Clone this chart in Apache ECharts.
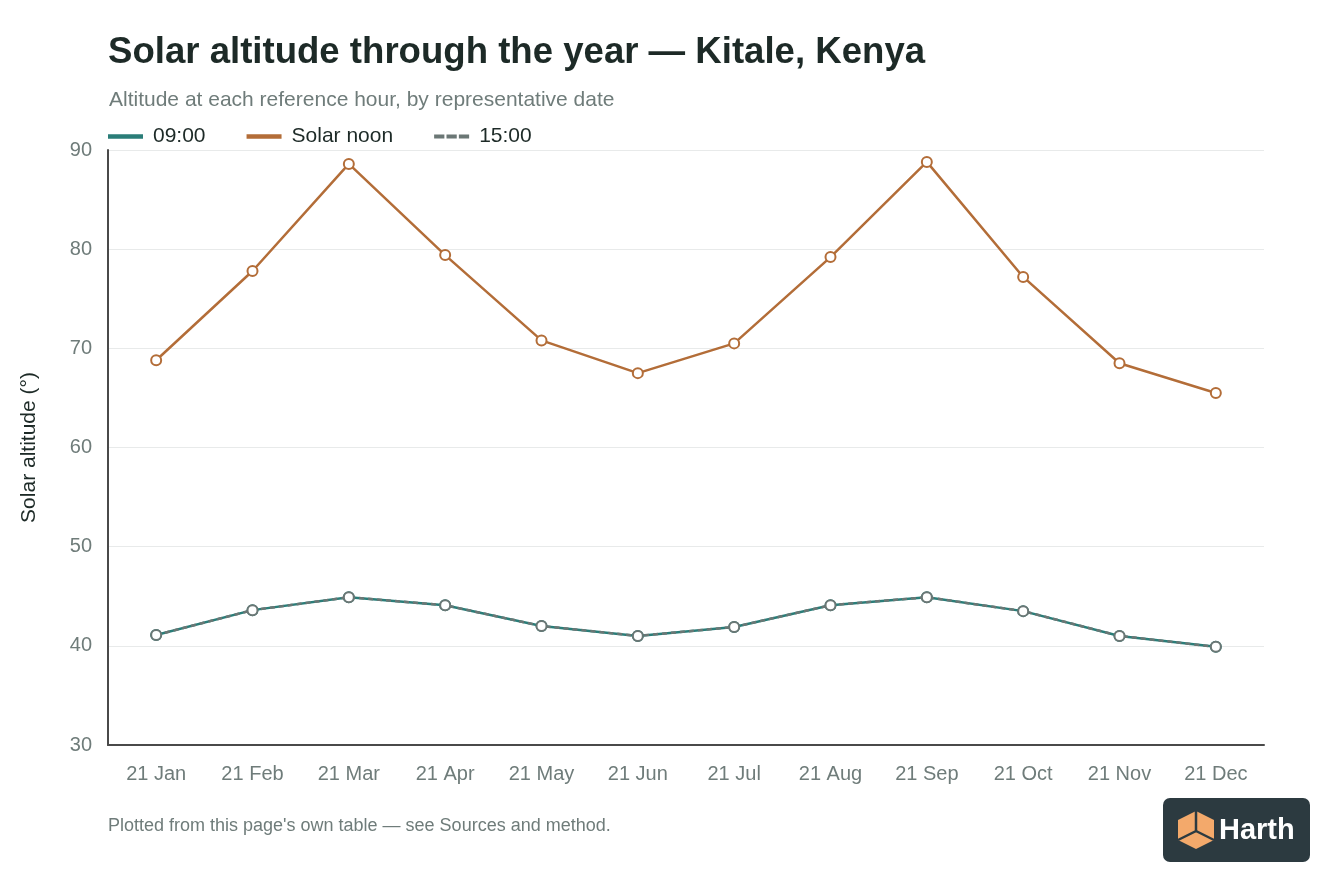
<!DOCTYPE html>
<html><head><meta charset="utf-8">
<script src="https://cdn.jsdelivr.net/npm/echarts@6/dist/echarts.min.js"></script>
<style>html,body{margin:0;padding:0;background:#fff}#c{width:1344px;height:896px}</style>
</head><body><div id="c"></div>
<script>
const categories = ['21 Jan','21 Feb','21 Mar','21 Apr','21 May','21 Jun','21 Jul','21 Aug','21 Sep','21 Oct','21 Nov','21 Dec'];
const alt0900 = [41.1,43.6,44.9,44.1,42.0,41.0,41.9,44.1,44.9,43.5,41.0,39.9];
const altNoon = [68.8,77.8,88.6,79.4,70.8,67.5,70.5,79.2,88.8,77.2,68.5,65.5];
const alt1500 = [41.1,43.6,44.9,44.1,42.0,41.0,41.9,44.1,44.9,43.5,41.0,39.9];
const yTicks = [30,40,50,60,70,80,90];

const FONT = '"Liberation Sans", Arial, Helvetica, sans-serif';
const chart = echarts.init(document.getElementById('c'));
const mk = (name, data, color, dashed, z) => ({
  name, type:'line', data, z,
  symbol:'circle', symbolSize:10, showSymbol:true,
  lineStyle:{color, width:2.5, type: dashed ? [5,4] : 'solid'},
  itemStyle:{color:'#fff', borderColor:color, borderWidth:2},
  emphasis:{disabled:true}
});
chart.setOption({
  animation:false,
  textStyle:{fontFamily:FONT},
  title:[
    {text:'Solar altitude through the year — Kitale, Kenya', left:103, top:29,
     textStyle:{fontSize:36.6, fontWeight:'bold', color:'#1d2a27', fontFamily:FONT}},
    {text:'Altitude at each reference hour, by representative date', left:104, top:85,
     textStyle:{fontSize:21, fontWeight:'normal', color:'#6f7c7a', fontFamily:FONT}},
    {text:"Plotted from this page's own table — see Sources and method.", left:103, top:812,
     textStyle:{fontSize:18, fontWeight:'normal', color:'#6f7c7a', fontFamily:FONT}}
  ],
  legend:{
    left:103, top:121, itemWidth:33, itemHeight:2.5, itemGap:41, icon:'rect',
    textStyle:{fontSize:21, color:'#1d2a27', fontFamily:FONT, padding:[0,0,0,6]},
    data:[
      {name:'09:00', itemStyle:{color:'#2a7d78'}},
      {name:'Solar noon', itemStyle:{color:'#b36d38'}},
      {name:'15:00', icon:'path://M0,0H8V2H0Z M12,0H20V2H12Z M24,0H32V2H24Z', itemStyle:{color:'#6b7775'}}
    ]
  },
  grid:{left:108, right:80, top:150, bottom:151, containLabel:false},
  xAxis:{
    type:'category', data:categories, boundaryGap:true,
    axisLine:{lineStyle:{color:'#4a4a4a', width:2}},
    axisTick:{show:false},
    axisLabel:{fontSize:20, color:'#6f7c7a', margin:19, fontFamily:FONT}
  },
  yAxis:{
    type:'value', min:yTicks[0], max:yTicks[yTicks.length-1], interval:10,
    name:'Solar altitude (°)', nameLocation:'middle', nameGap:68, nameRotate:90,
    nameTextStyle:{fontSize:21, color:'#1d2a27', fontFamily:FONT},
    axisLine:{show:true, lineStyle:{color:'#4a4a4a', width:2}},
    axisTick:{show:false},
    axisLabel:{fontSize:20, color:'#6f7c7a', margin:16, fontFamily:FONT},
    splitLine:{lineStyle:{color:'#e8eaea', width:1}}
  },
  series:[
    mk('09:00', alt0900, '#2a7d78', false, 2),
    mk('Solar noon', altNoon, '#b36d38', false, 3),
    mk('15:00', alt1500, '#6b7775', true, 4)
  ],
  graphic:[
    {type:'group', left:1163, top:798, children:[
      {type:'rect', shape:{x:0,y:0,width:147,height:64,r:7}, style:{fill:'#2c3a40'}},
      {type:'polygon', shape:{points:[[33,13],[15,22],[15,42],[33,51],[51,42],[51,22]]}, style:{fill:'#f3a96b'}},
      {type:'polyline', shape:{points:[[33,13],[33,33],[15,42]]}, style:{stroke:'#2c3a40', lineWidth:2.5, fill:null}},
      {type:'polyline', shape:{points:[[33,33],[51,42]]}, style:{stroke:'#2c3a40', lineWidth:2.5, fill:null}},
      {type:'text', style:{x:56, y:33, text:'Harth', fill:'#ffffff', font:'bold 29px "Liberation Sans", Arial, sans-serif', textVerticalAlign:'middle'}}
    ]}
  ]
});
</script></body></html>
